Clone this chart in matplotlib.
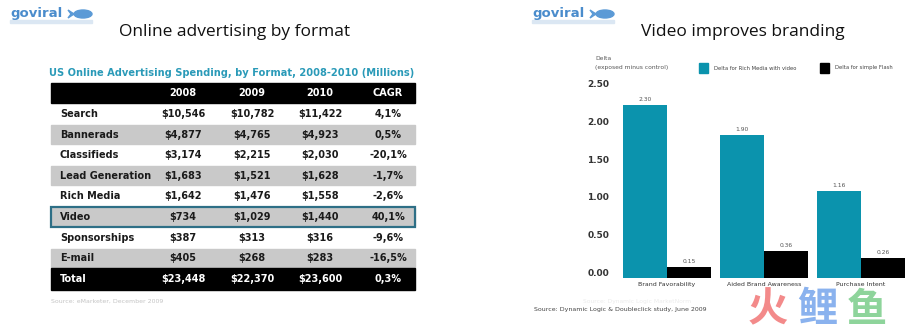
import matplotlib.pyplot as plt
from matplotlib.patches import Rectangle, Ellipse, Polygon
from matplotlib.transforms import offset_copy

# table data (left slide)
formats = ['Search', 'Bannerads', 'Classifieds', 'Lead Generation', 'Rich Media',
           'Video', 'Sponsorships', 'E-mail']
spend_2008 = [10546, 4877, 3174, 1683, 1642, 734, 387, 405]
spend_2009 = [10782, 4765, 2215, 1521, 1476, 1029, 313, 268]
spend_2010 = [11422, 4923, 2030, 1628, 1558, 1440, 316, 283]
cagr = [4.1, 0.5, -20.1, -1.7, -2.6, 40.1, -9.6, -16.5]
total_row = [23448, 22370, 23600, 0.3]
header = ['2008', '2009', '2010', 'CAGR']

# bar data (right slide)
categories = ['Brand Favorability', 'Aided Brand Awareness', 'Purchase Intent']
rich_media_video = [2.30, 1.90, 1.16]
simple_flash = [0.15, 0.36, 0.26]
yticks = [0.0, 0.5, 1.0, 1.5, 2.0, 2.5]

W, H = 914, 332
TEAL = '#0b93ad'
fig = plt.figure(figsize=(W / 100, H / 100), dpi=100)
bg = fig.add_axes([0, 0, 1, 1])
bg.set_xlim(0, W)
bg.set_ylim(H, 0)
bg.axis('off')

def money(v):
    return '${:,}'.format(v)

def pct(v):
    return '{:.1f}%'.format(v).replace('.', ',')

def logo(x, y):
    bg.text(x, y, 'goviral', fontsize=9.5, fontweight='bold', color='#4a8ccc',
            va='center', ha='left', family='DejaVu Sans')
    bg.add_patch(Ellipse((x + 73, y), 18, 8, color='#5b9ad6'))
    bg.add_patch(Polygon([[x + 58, y - 4], [x + 64, y], [x + 58, y + 4], [x + 61, y]],
                         color='#5b9ad6'))
    bg.add_patch(Rectangle((x, y + 6), 82, 3, color='#dbe7f3'))

# ---- left slide ----
logo(10, 14)
bg.text(235, 32, 'Online advertising by format', fontsize=12.5, ha='center', va='center',
        family='Open Sans', color='#111111')
bg.text(232, 73, 'US Online Advertising Spending, by Format, 2008-2010 (Millions)',
        fontsize=7.1, fontweight='bold', color='#2a9ab8', ha='center', va='center',
        family='DejaVu Sans')

tx0, tx1 = 51, 415
row_h = 20.6
y0 = 83
col_x = [183, 252, 320, 388]
tfont = dict(fontsize=7, family='DejaVu Sans', fontweight='bold', va='center')

bg.add_patch(Rectangle((tx0, y0), tx1 - tx0, row_h - 1, color='black'))
for cx, h in zip(col_x, header):
    bg.text(cx, y0 + row_h / 2, h, color='white', ha='center', **tfont)

for i, name in enumerate(formats):
    top = y0 + row_h * (i + 1)
    if i % 2 == 1:
        bg.add_patch(Rectangle((tx0, top + 1), tx1 - tx0, row_h - 2, color='#c9c9c9'))
    cy = top + row_h / 2
    bg.text(60, cy, name, color='#1a1a1a', ha='left', **tfont)
    vals = [money(spend_2008[i]), money(spend_2009[i]), money(spend_2010[i]), pct(cagr[i])]
    for cx, v in zip(col_x, vals):
        bg.text(cx, cy, v, color='#1a1a1a', ha='center', **tfont)
    if name == 'Video':
        bg.add_patch(Rectangle((tx0, top + 0.5), tx1 - tx0, row_h - 1, fill=False,
                               edgecolor='#2e6f86', lw=1.6))

top = y0 + row_h * (len(formats) + 1)
bg.add_patch(Rectangle((tx0, top), tx1 - tx0, row_h + 1, color='black'))
tvals = [money(v) for v in total_row[:3]] + [pct(total_row[3])]
bg.text(60, top + row_h / 2, 'Total', color='white', ha='left', **tfont)
for cx, v in zip(col_x, tvals):
    bg.text(cx, top + row_h / 2, v, color='white', ha='center', **tfont)

bg.text(51, 301, 'Source: eMarketer, December 2009', fontsize=4.5, color='#c4c4c4',
        ha='left', va='center')

# ---- right slide ----
logo(532, 14)
bg.text(743, 32, 'Video improves branding', fontsize=12.5, ha='center', va='center',
        family='Open Sans', color='#111111')
bg.text(595, 58, 'Delta', fontsize=4.3, color='#555555', ha='left', va='center')
bg.text(595, 68, '(exposed minus control)', fontsize=4.3, color='#555555', ha='left', va='center')
bg.add_patch(Rectangle((699, 63), 9, 10, color=TEAL))
bg.text(714, 68, 'Delta for Rich Media with video', fontsize=3.8, color='#444444',
        ha='left', va='center')
bg.add_patch(Rectangle((820, 63), 9, 10, color='black'))
bg.text(835, 68, 'Delta for simple Flash', fontsize=3.8, color='#444444',
        ha='left', va='center')

bg.text(637, 301, 'Source: Dynamic Logic MarketNorm', fontsize=4.3, color='#ececec',
        ha='center', va='center')
bg.text(534, 309, 'Source: Dynamic Logic & Doubleclick study, June 2009', fontsize=4.5,
        color='#444444', ha='left', va='center')

# bar chart axes: 0 at y=277px, 97px per category
ax_l, ax_r = 612, 910
ax_b, ax_t = 278, 86
ax = fig.add_axes([ax_l / W, (H - ax_b) / H, (ax_r - ax_l) / W, (ax_b - ax_t) / H])
ax.patch.set_alpha(0)
w = 0.45
xs = range(len(categories))
b1 = ax.bar([x - w / 2 for x in xs], rich_media_video, w, color=TEAL)
b2 = ax.bar([x + w / 2 for x in xs], simple_flash, w, color='black')
for bars in (b1, b2):
    for b in bars:
        ax.text(b.get_x() + b.get_width() / 2, b.get_height() + 0.04,
                '{:.2f}'.format(b.get_height()), ha='center', va='bottom',
                fontsize=4.3, color='#555555')
ax.set_xlim(-0.567, 2.505)
ax.set_ylim(0, 2.55)
# y labels in the original sit a few pixels above their tick positions
ax.set_yticks([])
lab_tr = offset_copy(ax.get_yaxis_transform(), fig=fig, x=-3, y=5, units='dots')
for t in yticks:
    ax.text(0, t, '{:.2f}'.format(t), transform=lab_tr, ha='right', va='center',
            fontsize=6.5, fontweight='bold', color='#333333')
ax.set_xticks(list(xs))
ax.set_xticklabels(categories, fontsize=4.5, color='#333333')
ax.tick_params(length=0, pad=3)
for s in ax.spines.values():
    s.set_visible(False)

# watermark
for ch, cx, col in zip('火鲤鱼', [768, 817, 867], ['#f38a8a', '#8ab2ee', '#8ed49b']):
    bg.text(cx, 310, ch, fontsize=29, fontweight='heavy', color=col, ha='center',
            va='center', family=['Noto Sans CJK SC', 'DejaVu Sans'], zorder=10)

fig.savefig('out.png', dpi=100)
